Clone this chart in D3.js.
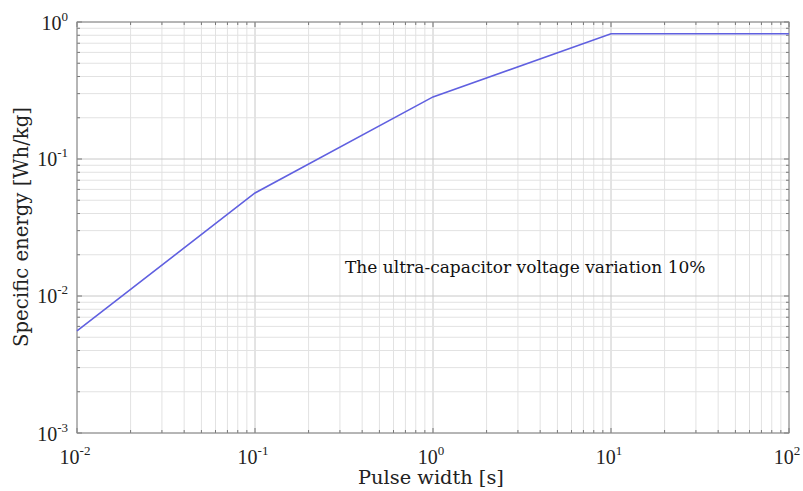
<!DOCTYPE html>
<html><head><meta charset="utf-8">
<script src="https://cdn.jsdelivr.net/npm/d3@7"></script>
<style>body{margin:0;background:#fff}svg{font-family:"Liberation Serif","DejaVu Serif",serif}</style>
</head><body><svg id="c" width="803" height="491"></svg>
<script>
const pulseWidth = [0.01, 0.1, 1, 10, 100];
const specificEnergy = [0.00556, 0.0565, 0.284, 0.82, 0.82];
const xTickExps = [-2, -1, 0, 1, 2];
const yTickExps = [-3, -2, -1, 0];
const xTitle = "Pulse width [s]";
const yTitle = "Specific energy  [Wh/kg]";
const note = "The ultra-capacitor voltage variation 10%";

const svg = d3.select("#c");
const L = 77, R = 789, T = 22, B = 433;
const x = d3.scaleLog().domain([0.01, 100]).range([L, R]);
const y = d3.scaleLog().domain([0.001, 1]).range([B, T]);

const minorX = [], minorY = [];
for (let e = -2; e < 2; e++) for (let m = 1; m < 10; m++) minorX.push(m * Math.pow(10, e));
minorX.push(100);
for (let e = -3; e < 0; e++) for (let m = 1; m < 10; m++) minorY.push(m * Math.pow(10, e));
minorY.push(1);
const isMajor = d => Math.abs(Math.log10(d) - Math.round(Math.log10(d))) < 1e-9;

const g = svg.append("g");
g.selectAll(".gx").data(minorX).join("line")
  .attr("x1", d => x(d)).attr("x2", d => x(d)).attr("y1", T).attr("y2", B)
  .attr("stroke", d => isMajor(d) ? "#c8c8c8" : "#e2e2e2").attr("stroke-width", 1);
g.selectAll(".gy").data(minorY).join("line")
  .attr("y1", d => y(d)).attr("y2", d => y(d)).attr("x1", L).attr("x2", R)
  .attr("stroke", d => isMajor(d) ? "#c8c8c8" : "#e2e2e2").attr("stroke-width", 1);

const tk = g.append("g").attr("stroke", "#777").attr("stroke-width", 1);
minorX.forEach(d => {
  const len = isMajor(d) ? 5 : 3;
  tk.append("line").attr("x1", x(d)).attr("x2", x(d)).attr("y1", B).attr("y2", B - len);
  tk.append("line").attr("x1", x(d)).attr("x2", x(d)).attr("y1", T).attr("y2", T + len);
});
minorY.forEach(d => {
  const len = isMajor(d) ? 5 : 3;
  tk.append("line").attr("y1", y(d)).attr("y2", y(d)).attr("x1", L).attr("x2", L + len);
  tk.append("line").attr("y1", y(d)).attr("y2", y(d)).attr("x1", R).attr("x2", R - len);
});

g.append("rect").attr("x", L).attr("y", T).attr("width", R - L).attr("height", B - T)
  .attr("fill", "none").attr("stroke", "#888").attr("stroke-width", 1);

const line = d3.line().x((d, i) => x(pulseWidth[i])).y(d => y(d));
svg.append("path").datum(specificEnergy).attr("d", line)
  .attr("fill", "none").attr("stroke", "#6060e0").attr("stroke-width", 1.6);

function pow10(sel, e) {
  sel.append("tspan").text("10");
  sel.append("tspan").attr("dy", -9).attr("font-size", 13).text(e);
}
xTickExps.forEach(e => {
  const t = svg.append("text").attr("x", x(Math.pow(10, e)) - 2).attr("y", 464)
    .attr("text-anchor", "middle").attr("font-size", 20).attr("fill", "#222");
  pow10(t, e);
});
yTickExps.forEach(e => {
  const yy = e === -3 ? B + 8 : (e === 0 ? T + 8 : y(Math.pow(10, e)) + 7);
  const t = svg.append("text").attr("x", 68).attr("y", yy)
    .attr("text-anchor", "end").attr("font-size", 20).attr("fill", "#222");
  pow10(t, e);
});

function fitText(sel, target) {
  const w = sel.node().getComputedTextLength();
  const fs = +sel.attr("font-size");
  sel.attr("font-size", (fs * target / w).toFixed(2));
}
const tx = svg.append("text").attr("x", 431).attr("y", 484).attr("text-anchor", "middle")
  .attr("font-family", "DejaVu Serif").attr("font-size", 18).attr("fill", "#222").text(xTitle);
fitText(tx, 146);
const ty = svg.append("text").attr("transform", "translate(28,227) rotate(-90)")
  .attr("text-anchor", "middle").attr("font-family", "DejaVu Serif").attr("font-size", 18).attr("fill", "#222").text(yTitle);
fitText(ty, 240);
const tn = svg.append("text").attr("x", 345).attr("y", 273).attr("font-family", "DejaVu Serif")
  .attr("font-size", 18).attr("fill", "#111").text(note);
fitText(tn, 361);
</script></body></html>
